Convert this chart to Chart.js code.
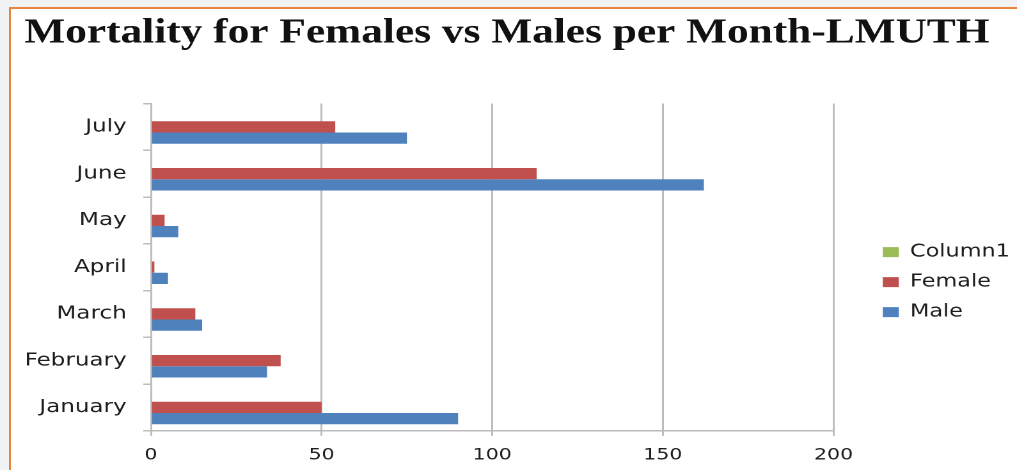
<!DOCTYPE html>
<html>
<head>
<meta charset="utf-8">
<script src="https://cdn.jsdelivr.net/npm/chart.js@4/dist/chart.umd.min.js"></script>
<style>
  html, body { margin: 0; padding: 0; }
  body { width: 1017px; height: 470px; overflow: hidden; position: relative; background: #f1f2f4; }
  #frame {
    position: absolute; left: 9px; top: 7px; right: -10px; bottom: -10px;
    border-left: 2px solid #e8843f; border-top: 2px solid #e8843f; background: #ffffff;
  }
  /* the chart is laid out narrow and stretched horizontally */
  #wrap {
    position: absolute; left: 0; top: 0; width: 795px; height: 470px;
    transform: scaleX(1.2792); transform-origin: 0 0;
  }
</style>
</head>
<body>
<div id="frame"></div>
<div id="wrap"><canvas id="c" width="795" height="470"></canvas></div>
<script>
// Monthly deaths, LMUTH
const months  = ['January', 'February', 'March', 'April', 'May', 'June', 'July'];
const male    = [90, 34, 15, 5, 8, 162, 75];
const female  = [50, 38, 13, 1, 4, 113, 54];
const column1 = [null, null, null, null, null, null, null];
const xTicks  = [0, 50, 100, 150, 200];

// months run bottom-to-top, so list them from July down
const rev = a => a.slice().reverse();

const GRID = '#bcbcbc';
const TEXT = '#1e1e1e';

// places the legend a fixed distance right of the plot, a little below its middle
const legendPlacement = {
  id: 'legendPlacement',
  afterLayout(chart) {
    const lg = chart.legend, area = chart.chartArea;
    const dx = area.right + 38.5 - lg.options.labels.padding - lg.left;
    lg.left += dx; lg.right += dx;
    const dy = (area.top + area.bottom) / 2 + 15 - (lg.top + lg.bottom) / 2;
    lg.top += dy; lg.bottom += dy;
  }
};

new Chart(document.getElementById('c'), {
  type: 'bar',
  data: {
    labels: rev(months),
    datasets: [
      { label: 'Column1', data: rev(column1), backgroundColor: '#9bbb59', borderWidth: 0 },
      { label: 'Female',  data: rev(female),  backgroundColor: '#c0504d', borderWidth: 0 },
      { label: 'Male',    data: rev(male),    backgroundColor: '#4f81bd', borderWidth: 0 }
    ]
  },
  options: {
    indexAxis: 'y',
    responsive: false,
    devicePixelRatio: 2,
    animation: false,
    categoryPercentage: 0.72,
    barPercentage: 1.0,
    layout: { padding: { left: 19, right: 21.5, top: 0, bottom: 5 } },
    scales: {
      x: {
        min: xTicks[0],
        max: xTicks[xTicks.length - 1],
        afterBuildTicks: s => { s.ticks = xTicks.map(v => ({ value: v })); },
        // axis band = tick mark + gap + one line of labels
        afterFit: s => { s.height = 5 + 10 + 16 * 1.2; },
        grid: { color: GRID, lineWidth: 1.5, tickLength: 5, drawOnChartArea: true },
        border: { color: GRID, width: 1.5 },
        ticks: { color: TEXT, padding: 10, maxRotation: 0, font: { family: 'DejaVu Sans', size: 16 } }
      },
      y: {
        // fixed band for the month names
        afterFit: s => { s.width = 99; },
        grid: { color: GRID, lineWidth: 1.5, tickLength: 6, offset: true, drawOnChartArea: false },
        border: { color: GRID, width: 1.5 },
        ticks: { color: TEXT, padding: 13, font: { family: 'DejaVu Sans', size: 18 } }
      }
    },
    plugins: {
      title: {
        display: true,
        align: 'start',
        text: 'Mortality for Females vs Males per Month-LMUTH',
        color: '#111111',
        font: { family: 'Liberation Serif', size: 34.6, weight: 'bold' },
        padding: { top: 13, bottom: 49 }
      },
      legend: {
        position: 'right',
        labels: {
          color: TEXT,
          font: { family: 'DejaVu Sans', size: 17.5 },
          boxWidth: 12.5,
          boxHeight: 10,
          padding: 12.5
        }
      },
      tooltip: { enabled: false }
    }
  },
  plugins: [legendPlacement]
});
</script>
</body>
</html>
